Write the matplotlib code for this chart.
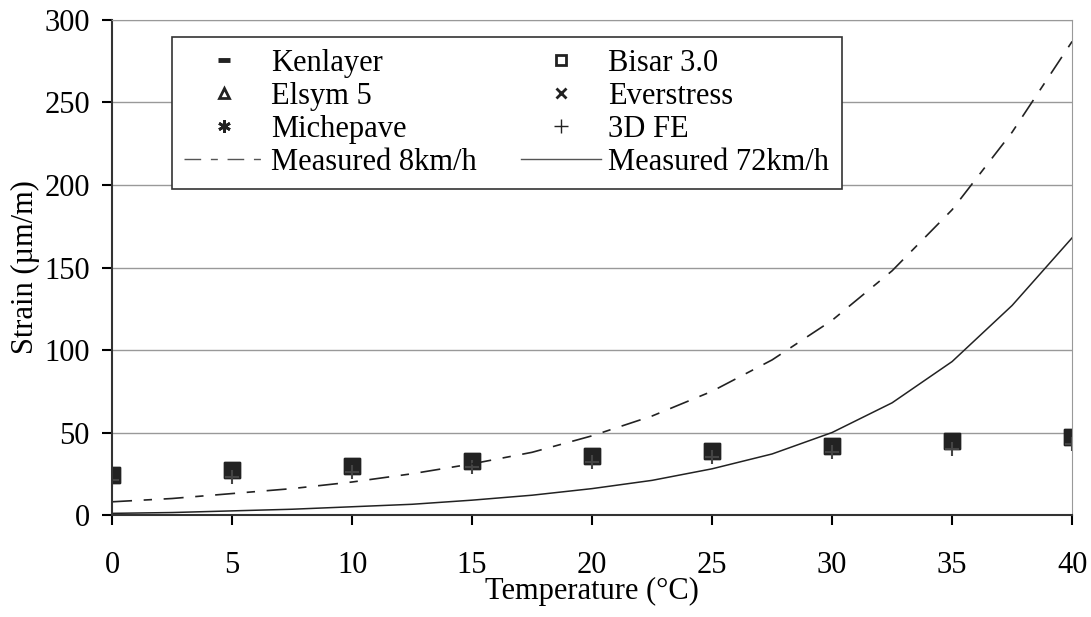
import numpy as np
import matplotlib.pyplot as plt
import matplotlib.lines as mlines

plt.rcParams['font.family'] = ['Liberation Serif', 'DejaVu Serif']

# Temperatures for the model results
temp = [0, 5, 10, 15, 20, 25, 30, 35, 40]
kenlayer = [24, 27, 30, 33, 36, 39, 42, 45, 47]
bisar = [24, 27, 30, 33, 36, 39, 42, 45, 47]
elsym = [24, 27, 30, 33, 36, 39, 42, 45, 47]
everstress = [24, 27, 30, 33, 36, 39, 42, 45, 47]
michepave = [25, 28, 31, 34, 37, 40, 43, 46, 48]
fe3d = [21, 23, 26, 29, 32, 35, 38, 40, 43]

# Measured curves
temp_m = [0, 2.5, 5, 7.5, 10, 12.5, 15, 17.5, 20, 22.5, 25, 27.5, 30, 32.5, 35, 37.5, 40]
meas_8 = [8, 10, 13, 16, 20, 25, 31, 38, 48, 60, 75, 94, 118, 148, 185, 232, 287]
meas_72 = [1, 1.5, 2.5, 3.5, 5, 6.5, 9, 12, 16, 21, 28, 37, 50, 68, 93, 127, 168]

fig = plt.figure(figsize=(10.91, 6.17), dpi=100)
ax = fig.add_axes([0.1027, 0.1653, 0.88, 0.8023])

c = '#222222'
dash = (0, (12, 7, 5, 7))
ax.plot(temp, kenlayer, ls='none', marker='s', ms=12, color=c)
ax.plot(temp, bisar, ls='none', marker='s', ms=11, mfc=c, mec=c)
ax.plot(temp, elsym, ls='none', marker='^', ms=9, color=c)
ax.plot(temp, everstress, ls='none', marker='x', ms=9, mew=2, color=c)
ax.plot(temp, michepave, ls='none', marker='*', ms=9, color=c)
ax.plot(temp, fe3d, ls='none', marker='+', ms=10, mew=1.5, color='#444444')
ax.plot(temp_m, meas_8, ls=dash, lw=1.2, color=c)
ax.plot(temp_m, meas_72, ls='-', lw=1.1, color=c)

# Legend proxies (small markers like the original)
p_ken = mlines.Line2D([], [], ls='none', marker='_', ms=9, mew=3.5, color=c)
p_bis = mlines.Line2D([], [], ls='none', marker='s', ms=7, mfc='white', mec=c, mew=2)
p_els = mlines.Line2D([], [], ls='none', marker='^', ms=7, mfc='white', mec=c, mew=2)
p_eve = mlines.Line2D([], [], ls='none', marker='x', ms=7, mew=2, color=c)
p_mic = mlines.Line2D([], [], ls='none', marker=(6, 2, 0), ms=9, mew=2, color=c)
p_fe = mlines.Line2D([], [], ls='none', marker='+', ms=10, mew=1, color=c)
p_8 = mlines.Line2D([], [], ls=dash, lw=1.0, color='#555555')
p_72 = mlines.Line2D([], [], ls='-', lw=1.0, color='#555555')

leg = ax.legend([p_ken, p_els, p_mic, p_8, p_bis, p_eve, p_fe, p_72],
                ['Kenlayer', 'Elsym 5', 'Michepave', 'Measured 8km/h',
                 'Bisar 3.0', 'Everstress', '3D FE', 'Measured 72km/h'],
                ncol=2, loc='upper left', bbox_to_anchor=(0.0625, 0.9657),
                fontsize=22, frameon=True, fancybox=False, edgecolor='#333333',
                framealpha=1, handlelength=2.6, handletextpad=0.25,
                columnspacing=1.45, labelspacing=0.13, borderpad=0.4,
                borderaxespad=0)
leg.get_frame().set_linewidth(1.2)

ax.set_xlim(0, 40)
ax.set_ylim(0, 300)
ax.set_xticks(range(0, 41, 5))
ax.set_yticks(range(0, 301, 50))
ax.yaxis.grid(True, color='#999999', lw=1)
ax.set_axisbelow(True)
for s in ['top', 'right']:
    ax.spines[s].set_color('#999999')
for s in ['left', 'bottom']:
    ax.spines[s].set_linewidth(1.5)
    ax.spines[s].set_color('#333333')
ax.tick_params(labelsize=22, length=7, width=1.5, direction='out')
ax.tick_params(axis='y', pad=9)
ax.tick_params(axis='x', pad=19)
ax.set_xlabel('Temperature (°C)', fontsize=22, labelpad=-2)
ax.set_ylabel('Strain (µm/m)', fontsize=22, labelpad=3)

fig.savefig('out.png', dpi=100)
